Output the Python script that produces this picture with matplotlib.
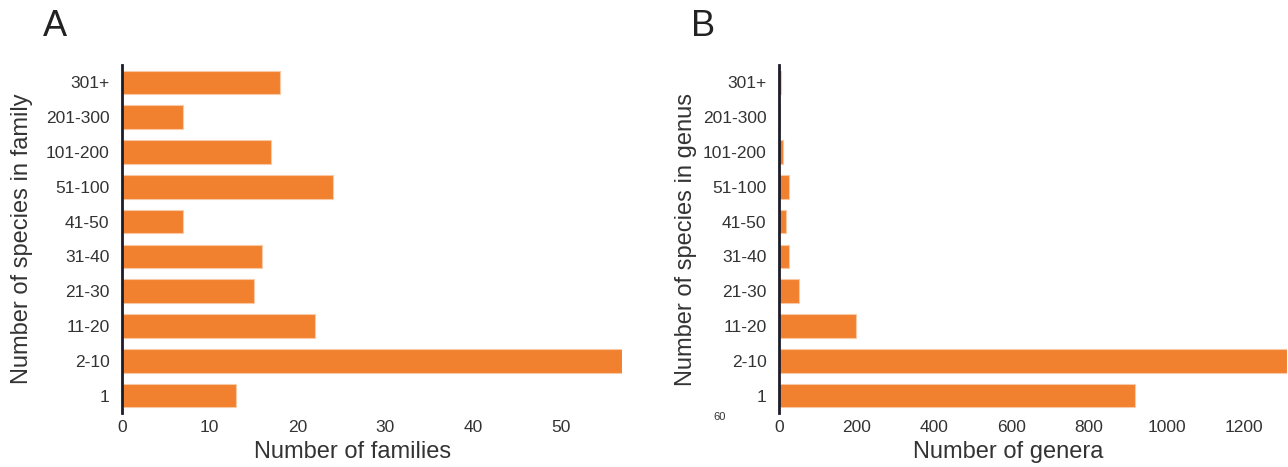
import matplotlib
matplotlib.use("Agg")
import matplotlib.pyplot as plt

categories_family = ["1", "2-10", "11-20", "21-30", "31-40", "41-50", "51-100", "101-200", "201-300", "301+"]
families = [13, 57, 22, 15, 16, 7, 24, 17, 7, 18]

categories_genus = ["1", "2-10", "11-20", "21-30", "31-40", "41-50", "51-100", "101-200", "201-300", "301+"]
genera = [918, 1311, 200, 52, 26, 17, 26, 11, 3, 4]

xticks_a = [0, 10, 20, 30, 40, 50]
xticks_b = [0, 200, 400, 600, 800, 1000, 1200]

plt.rcParams['font.family'] = ['Liberation Sans', 'DejaVu Sans']
W, H = 1288, 467
fig = plt.figure(figsize=(W / 100, H / 100), dpi=100)

orange = "#F2812F"
txt = "#333333"
spine_c = "#1c1c2a"


def make_ax(left, right, top, bottom):
    return fig.add_axes([left / W, (H - bottom) / H, (right - left) / W, (bottom - top) / H])


def style(ax, cats, vals, xt, xmax, xlabel, ylabel, xlab_x, ylab_x, axh):
    ax.barh(range(len(cats)), vals, height=0.68, color=orange, edgecolor="#f9c9a6", linewidth=0.8)
    ax.set_ylim(-0.5, len(cats) - 0.5)
    ax.set_xlim(0, xmax)
    ax.set_yticks(range(len(cats)))
    ax.set_yticklabels(cats)
    ax.set_xticks(xt)
    ax.tick_params(axis='both', length=0, labelsize=12.5, colors=txt)
    ax.tick_params(axis='y', pad=9)
    ax.tick_params(axis='x', pad=5)
    for s in ["top", "right", "bottom"]:
        ax.spines[s].set_visible(False)
    ax.spines["left"].set_color(spine_c)
    ax.spines["left"].set_linewidth(2)
    ax.set_xlabel(xlabel, fontsize=17, color=txt)
    ax.set_ylabel(ylabel, fontsize=17, color=txt)
    ax.xaxis.set_label_coords(xlab_x, -(441 - 413) / axh)
    ax.yaxis.set_label_coords(ylab_x, 0.5)


axA = make_ax(122, 622, 65, 413)
style(axA, categories_family, families, xticks_a, 57,
      "Number of families", "Number of species in family",
      (353 - 122) / 500, (33 - 122) / 500, 348)

axB = make_ax(779, 1287, 65, 413)
style(axB, categories_genus, genera, xticks_b, 1311,
      "Number of genera", "Number of species in genus",
      (1008 - 779) / 508, (697 - 779) / 508, 348)

fig.text(55 / W, 1 - 26 / H, "A", fontsize=26, color="#222222", ha="center", va="center")
fig.text(703 / W, 1 - 26 / H, "B", fontsize=26, color="#222222", ha="center", va="center")
fig.text(720 / W, 1 - 417 / H, "60", fontsize=8, color=txt, ha="center", va="center")

fig.savefig("out.png", dpi=100)
